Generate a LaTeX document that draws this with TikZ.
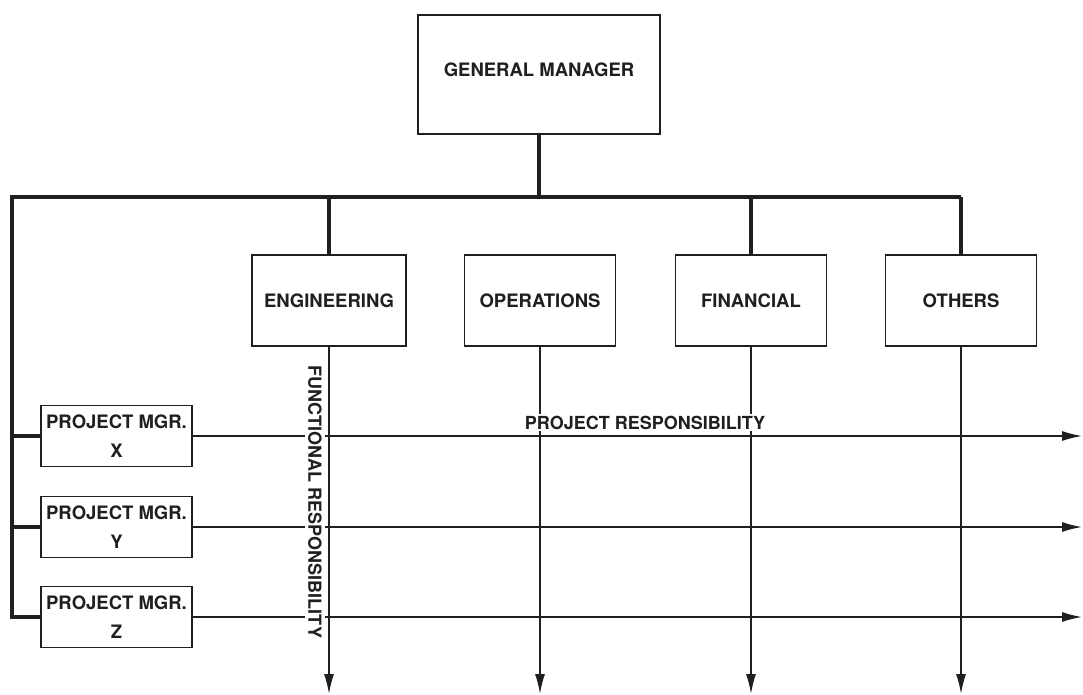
\documentclass[tikz,border=0pt]{standalone}
\usepackage{fontspec}
\setmainfont{TeX Gyre Heros}
\usetikzlibrary{arrows.meta}
\begin{document}
\begin{tikzpicture}[x=1pt,y=-1pt,
  ink/.style={color=black!88},
  box/.style={ink, draw, line width=1.6pt, inner sep=0pt, align=center,
    font=\bfseries\fontsize{18.5}{29}\selectfont},
  deptbox/.style={box, minimum width=151pt, minimum height=91pt},
  pmbox/.style={box, minimum width=151pt, minimum height=61pt},
  trunk/.style={ink, line width=3.2pt},
  flow/.style={ink, line width=1.5pt, -{Latex[length=20pt,width=10pt]}},
  lbl/.style={ink, font=\bfseries\fontsize{18}{20}\selectfont, inner sep=1pt}
]
\fill[white] (0,0) rectangle (1083,694);
\useasboundingbox (0,0) rectangle (1083,694);

% general manager and functional departments
\node[box, minimum width=242pt, minimum height=119pt, text depth=10pt] (gm) at (539,74.5) {GENERAL MANAGER};
\node[deptbox, minimum width=154pt] (eng) at (329,300.5) {ENGINEERING};
\node[deptbox] (ops) at (540,300.5) {OPERATIONS};
\node[deptbox] (fin) at (751,300.5) {FINANCIAL};
\node[deptbox] (oth) at (961,300.5) {OTHERS};

% project managers
\node[pmbox] (pmx) at (116.5,436) {PROJECT MGR.\\X};
\node[pmbox] (pmy) at (116.5,527) {PROJECT MGR.\\Y};
\node[pmbox] (pmz) at (116.5,617) {PROJECT MGR.\\Z};

% free ends of the bus and the arrows
\coordinate (barL) at (12,197);
\coordinate (barR) at (961,197);
\coordinate (bot) at (0,694);
\coordinate (rgt) at (1082,0);

% line of authority
\draw[trunk] (gm.south) -- (gm.south |- barL);
\draw[trunk, line join=miter] (barR) -- (barL) -- (barL |- pmz.west) -- (pmz.west);
\draw[trunk] (barL |- pmx.west) -- (pmx.west);
\draw[trunk] (barL |- pmy.west) -- (pmy.west);
\draw[trunk] (eng.north |- barL) -- (eng.north);
\draw[trunk] (fin.north |- barL) -- (fin.north);
\draw[trunk] (barR) -- (oth.north);

% project responsibility (horizontal)
\draw[flow] (pmx.east) -- (pmx.east -| rgt);
\draw[flow] (pmy.east) -- (pmy.east -| rgt);
\draw[flow] (pmz.east) -- (pmz.east -| rgt);

% functional responsibility (vertical)
\draw[flow] (eng.south) -- (eng.south |- bot);
\draw[flow] (ops.south) -- (ops.south |- bot);
\draw[flow] (fin.south) -- (fin.south |- bot);
\draw[flow] (oth.south) -- (oth.south |- bot);

% labels
\node[lbl, fill=white, rotate=-90, inner xsep=0pt, inner ysep=3pt] (fr) at (315,502) {FUNCTIONAL RESPONSIBILITY};
\node[lbl, fill=white, anchor=base, inner ysep=2pt] (pr) at (645,429) {PROJECT RESPONSIBILITY};
\end{tikzpicture}
\end{document}
